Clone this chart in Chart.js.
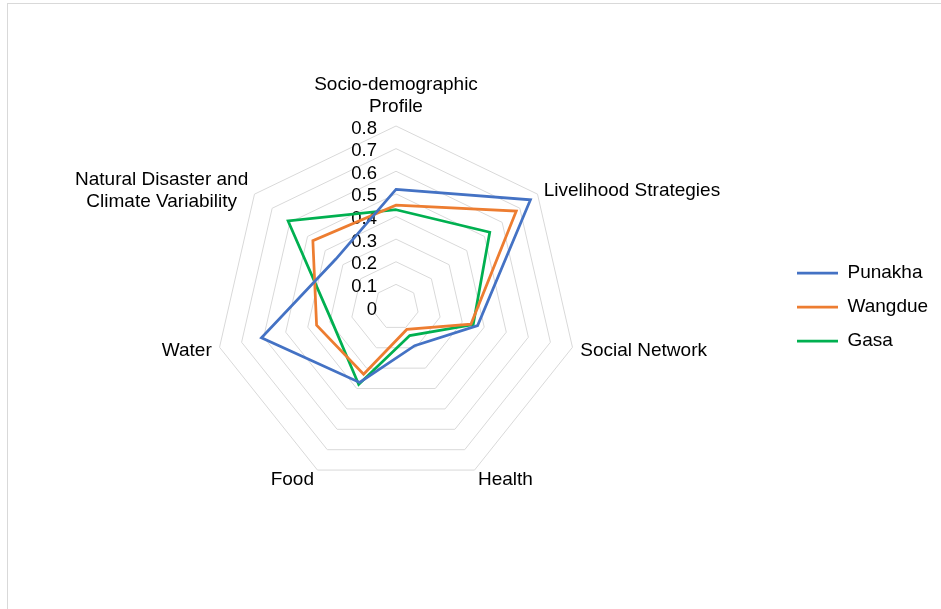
<!DOCTYPE html>
<html>
<head>
<meta charset="utf-8">
<script src="https://cdn.jsdelivr.net/npm/chart.js@4.4.1/dist/chart.umd.min.js"></script>
<style>
  html, body { margin: 0; padding: 0; background: #fff; overflow: hidden; }
  #frame { position: absolute; left: 7px; top: 3px; width: 1200px; height: 900px; border: 1px solid #d9d9d9; }
  #wrap { position: absolute; left: 0; top: 0; width: 941px; height: 609px; }
</style>
</head>
<body>
<div id="frame"></div>
<div id="wrap"><canvas id="radarChart"></canvas></div>
<script>
const categories = [
  ['Socio-demographic', 'Profile'],
  'Livelihood Strategies',
  'Social Network',
  'Health',
  'Food',
  'Water',
  ['Natural Disaster and', 'Climate Variability']
];
const punakha = [0.52, 0.76, 0.37, 0.19, 0.37, 0.61, 0.34];
const wangdue = [0.45, 0.68, 0.34, 0.11, 0.33, 0.36, 0.47];
const gasa    = [0.43, 0.53, 0.35, 0.14, 0.38, 0.29, 0.61];
const tickValues = [0, 0.1, 0.2, 0.3, 0.4, 0.5, 0.6, 0.7, 0.8];
const tickLabels = ['0', '0.1', '0.2', '0.3', '0.4', '0.5', '0.6', '0.7', '0.8'];

const FONT = '"Liberation Sans", Arial, sans-serif';
Chart.defaults.font.family = FONT;
Chart.defaults.color = '#000';

// Excel-style axis text: ticks left of the vertical axis, category labels beside the vertices
const axisText = {
  id: 'axisText',
  beforeDatasetsDraw(chart) {
    const r = chart.scales.r, ctx = chart.ctx;
    ctx.save();
    ctx.font = '18.5px ' + FONT;
    ctx.fillStyle = '#000';
    ctx.textAlign = 'right';
    ctx.textBaseline = 'middle';
    tickValues.forEach((v, i) => {
      const y = r.yCenter - r.getDistanceFromCenterForValue(v);
      ctx.fillText(tickLabels[i], r.xCenter - 19, y + 2.5);
    });
    ctx.restore();
  },
  afterDatasetsDraw(chart) {
    const r = chart.scales.r, ctx = chart.ctx;
    const lh = 22;
    ctx.save();
    ctx.font = '19px ' + FONT;
    ctx.fillStyle = '#000';
    ctx.textAlign = 'center';
    ctx.textBaseline = 'middle';
    categories.forEach((lbl, i) => {
      const lines = [].concat(lbl);
      const p = r.getPointPosition(i, r.drawingArea + 8);
      const a = r.getIndexAngle(i);
      const sx = Math.sin(a), cy = Math.cos(a);
      const w = Math.max(...lines.map(t => ctx.measureText(t).width));
      let cx = p.x;
      if (sx > 0.3) cx = p.x + w / 2;
      else if (sx < -0.3) cx = p.x - w / 2;
      const h = lines.length * lh;
      const top = cy > 0.9 ? p.y - h : p.y + 2 - h / 2;
      lines.forEach((t, k) => ctx.fillText(t, cx, top + lh * k + lh / 2));
    });
    ctx.restore();
  }
};

const ctx = document.getElementById('radarChart').getContext('2d');
const radarChart = new Chart(ctx, {
  type: 'radar',
  data: {
    labels: categories,
    datasets: [
      { label: 'Punakha', data: punakha, borderColor: '#4472C4', backgroundColor: '#4472C4' },
      { label: 'Wangdue', data: wangdue, borderColor: '#ED7D31', backgroundColor: '#ED7D31' },
      { label: 'Gasa', data: gasa, borderColor: '#00B050', backgroundColor: '#00B050' }
    ]
  },
  options: {
    responsive: true,
    maintainAspectRatio: false,
    animation: false,
    layout: { padding: { left: 10, right: 9, top: 126, bottom: 121 } },
    elements: {
      line: { borderWidth: 2.75, tension: 0, fill: false },
      point: { radius: 0, hoverRadius: 0, borderWidth: 2.75 }
    },
    plugins: {
      tooltip: { enabled: false },
      legend: {
        position: 'right',
        maxWidth: 150,
        labels: {
          usePointStyle: true,
          pointStyle: 'line',
          pointStyleWidth: 41,
          padding: 15,
          color: '#000',
          font: { size: 19 }
        }
      }
    },
    scales: {
      r: {
        min: 0,
        max: 0.8,
        ticks: { stepSize: 0.1, display: false },
        grid: { color: '#d9d9d9', lineWidth: 1 },
        angleLines: { display: false },
        pointLabels: { display: false }
      }
    }
  },
  plugins: [axisText]
});
</script>
</body>
</html>
